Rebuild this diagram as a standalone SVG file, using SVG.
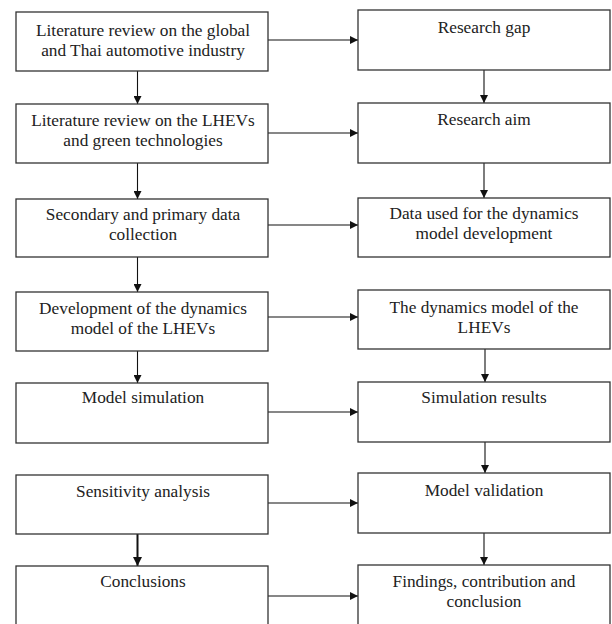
<svg xmlns="http://www.w3.org/2000/svg" width="612" height="624" viewBox="0 0 612 624">
<defs>
<style>
.box{fill:#fff;stroke:#333;stroke-width:1.3}
.t{font-family:"Liberation Serif","Times New Roman",serif;font-size:17.3px;fill:#222;text-anchor:middle}
.c{stroke:#111;stroke-width:1.1;fill:none}
.ck{stroke:#111;stroke-width:2;fill:none}
</style>
<marker id="ah" viewBox="0 0 10 10" refX="10" refY="5" markerUnits="userSpaceOnUse" markerWidth="9" markerHeight="8" orient="auto">
<path d="M0,0 L10,5 L0,10 z" fill="#111"/>
</marker>
<marker id="ahk" viewBox="0 0 10 10" refX="10" refY="5" markerUnits="userSpaceOnUse" markerWidth="10" markerHeight="9" orient="auto">
<path d="M0,0 L10,5 L0,10 z" fill="#111"/>
</marker>
</defs>
<rect width="612" height="624" fill="#fff"/>
<g id="connectors">
<path class="c" d="M268,40 H358" marker-end="url(#ah)"/>
<path class="c" d="M268,133 H358" marker-end="url(#ah)"/>
<path class="c" d="M268,225 H358" marker-end="url(#ah)"/>
<path class="c" d="M268,317 H358" marker-end="url(#ah)"/>
<path class="c" d="M268,412 H358" marker-end="url(#ah)"/>
<path class="c" d="M268,503 H358" marker-end="url(#ah)"/>
<path class="c" d="M268,596 H358" marker-end="url(#ah)"/>
<path class="c" d="M137.5,71 V104" marker-end="url(#ah)"/>
<path class="c" d="M137.5,163 V199" marker-end="url(#ah)"/>
<path class="c" d="M137.5,257 V292" marker-end="url(#ah)"/>
<path class="c" d="M137.5,351 V383" marker-end="url(#ah)"/>
<path class="ck" d="M137.5,534 V566" marker-end="url(#ahk)"/>
<path class="c" d="M484,70 V103" marker-end="url(#ah)"/>
<path class="c" d="M484,163 V198" marker-end="url(#ah)"/>
<path class="c" d="M485,349 V382" marker-end="url(#ah)"/>
<path class="c" d="M485,442 V473" marker-end="url(#ah)"/>
<path class="c" d="M484,533 V565" marker-end="url(#ah)"/>
</g>
<g id="n1"><rect class="box" x="16" y="12" width="252" height="59"/><text class="t" x="143" y="36">Literature review on the global</text><text class="t" x="143" y="55.5">and Thai automotive industry</text></g>
<g id="n2"><rect class="box" x="16" y="104" width="252" height="59"/><text class="t" x="143" y="126">Literature review on the LHEVs</text><text class="t" x="143" y="145.5">and green technologies</text></g>
<g id="n3"><rect class="box" x="16" y="199" width="252" height="58"/><text class="t" x="143" y="220">Secondary and primary data</text><text class="t" x="143" y="239.5">collection</text></g>
<g id="n4"><rect class="box" x="16" y="292" width="252" height="59"/><text class="t" x="143" y="314">Development of the dynamics</text><text class="t" x="143" y="333.5">model of the LHEVs</text></g>
<g id="n5"><rect class="box" x="16" y="383" width="252" height="60"/><text class="t" x="143" y="403">Model simulation</text></g>
<g id="n6"><rect class="box" x="16" y="475" width="252" height="59"/><text class="t" x="143" y="497">Sensitivity analysis</text></g>
<g id="n7"><rect class="box" x="16" y="566" width="252" height="66"/><text class="t" x="143" y="587">Conclusions</text></g>
<g id="r1"><rect class="box" x="358" y="10" width="252" height="60"/><text class="t" x="484" y="33">Research gap</text></g>
<g id="r2"><rect class="box" x="358" y="103" width="252" height="60"/><text class="t" x="484" y="125">Research aim</text></g>
<g id="r3"><rect class="box" x="358" y="198" width="252" height="59"/><text class="t" x="484" y="219">Data used for the dynamics</text><text class="t" x="484" y="238.5">model development</text></g>
<g id="r4"><rect class="box" x="358" y="290" width="252" height="59"/><text class="t" x="484" y="313">The dynamics model of the</text><text class="t" x="484" y="332.5">LHEVs</text></g>
<g id="r5"><rect class="box" x="358" y="382" width="252" height="60"/><text class="t" x="484" y="403">Simulation results</text></g>
<g id="r6"><rect class="box" x="358" y="473" width="252" height="60"/><text class="t" x="484" y="496">Model validation</text></g>
<g id="r7"><rect class="box" x="358" y="565" width="252" height="67"/><text class="t" x="484" y="587">Findings, contribution and</text><text class="t" x="484" y="607">conclusion</text></g>
</svg>
